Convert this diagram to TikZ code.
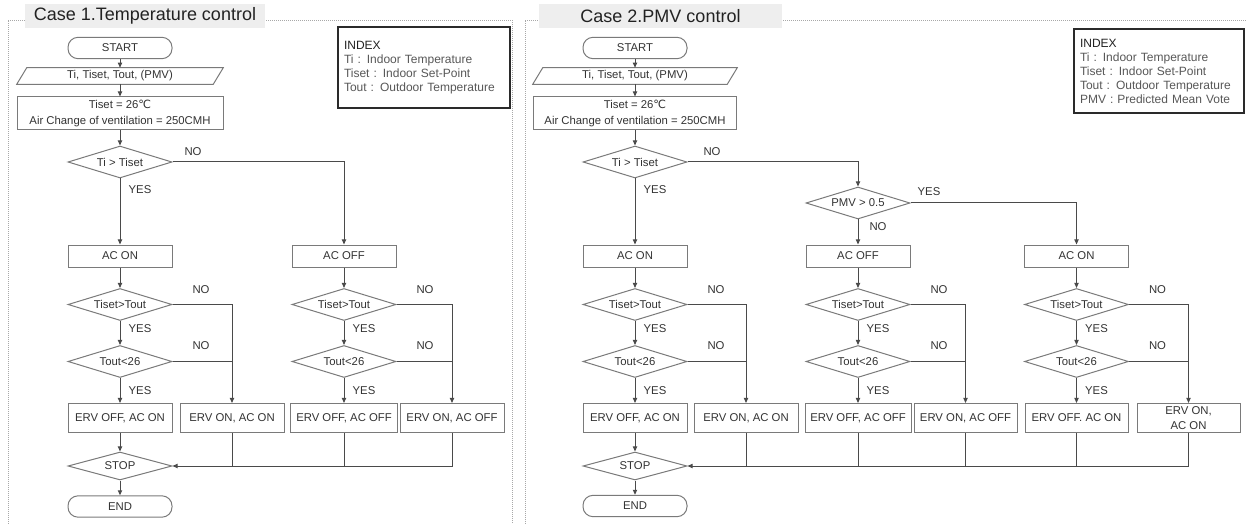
\documentclass[tikz,border=0pt]{standalone}
\usepackage{fontspec}
\setmainfont{Liberation Sans}
\newfontfamily\djv{DejaVu Sans}
\usetikzlibrary{shapes.geometric,arrows.meta}
\definecolor{txt}{HTML}{333333}
\definecolor{bord}{HTML}{7A7A7A}
\definecolor{lin}{HTML}{4A4A4A}
\definecolor{frm}{HTML}{A8A8A8}
\definecolor{ttlbg}{HTML}{EEEEEE}
\definecolor{idxb}{HTML}{2A2A2A}
\definecolor{idxt}{HTML}{585858}
\definecolor{idxh}{HTML}{222222}
\newcommand\mybranch[7]{%
  \node[dec] (#1d2) at (#2,304.5) {Tiset>Tout};
  \node[dec] (#1d3) at (#2,361.5) {Tout<26};
  \node[ervbox, minimum width=#4] (#1eL) at (#2,418) {#3};
  \node[ervbox, minimum width=#7] (#1eR) at (#5,418) {#6};
  \node[lab] (#1no2) at (#2+81,289.5) {NO};
  \node[lab] (#1yes2) at (#2+20,329) {YES};
  \node[lab] (#1no3) at (#2+81,345.5) {NO};
  \node[lab] (#1yes3) at (#2+20,391) {YES};
  \draw[arr] (#1ac) -- (#1d2);
  \draw[arr] (#1d2) -- (#1d3);
  \draw[arr] (#1d3) -- (#1eL);
  \draw[arr] (#1d2.east) -| (#1eR.north);
  \draw[conn] (#1d3.east) -- (#1d3.east -| #1eR.north);
}
\begin{document}
\begin{tikzpicture}[x=0.75pt,y=-0.75pt,
  every node/.style={text=txt, font=\fontsize{8.5}{11}\selectfont},
  box/.style={draw=bord, line width=0.75pt, minimum width=78pt, minimum height=16.5pt, inner xsep=2pt, inner ysep=1pt, align=center},
  ervbox/.style={box, minimum height=21.75pt},
  term/.style={box, rounded corners=7.5pt, minimum height=16pt},
  dec/.style={draw=bord, line width=0.75pt, diamond, aspect=3.25, minimum width=78pt, minimum height=24pt, inner sep=0pt},
  stopdec/.style={dec, minimum height=21pt},
  conn/.style={draw=lin, line width=0.75pt},
  arr/.style={conn, -{Triangle[length=3.8pt,width=3.2pt]}},
  lab/.style={inner sep=0pt},
  inbox/.style={inner sep=0pt, minimum width=147pt, minimum height=12pt},
  para/.style={draw=bord, line width=0.75pt},
  initbox/.style={box, minimum height=24.75pt, font=\fontsize{8.5}{12.5}\selectfont},
  frame/.style={draw=frm, densely dotted, line width=0.5pt},
  ttl/.style={fill=ttlbg, font=\fontsize{13.5}{15}\selectfont, text=idxh, inner sep=0pt, minimum height=18pt},
  idx/.style={draw=idxb, line width=1.5pt, align=left, inner xsep=4.5pt, inner ysep=0pt, font=\fontsize{9}{10.5}\selectfont, text=idxt},
]
\useasboundingbox (0,0) rectangle (1246,524);
\fill[white] (0,0) rectangle (1246,524);
% frames and titles
\draw[frame] (8,524) -- (8,20) -- (512,20) -- (512,524);
\draw[frame] (525,524) -- (525,20) -- (1246,20);
\node[ttl, minimum width=180pt] (t1) at (145,16) {Case 1.Temperature control};
\node[ttl, minimum width=182.25pt] (t2) at (660.5,16.5) {Case 2.PMV control};
% index boxes
\node[idx, text width=120pt, minimum height=60.75pt] (idx1) at (424,67.5)
  {\textcolor{idxh}{INDEX}\\Ti : Indoor Temperature\\Tiset : Indoor Set-Point\\Tout : Outdoor Temperature};
\node[idx, text width=118.5pt, minimum height=63pt] (idx2) at (1159,71)
  {\textcolor{idxh}{INDEX}\\Ti : Indoor Temperature\\Tiset : Indoor Set-Point\\Tout : Outdoor Temperature\\PMV : Predicted Mean Vote};

% ===== Case 1 =====
\node[term] (Lstart) at (120,48) {START};
\node[inbox] (Lin) at (120,76) {Ti, Tiset, Tout, (PMV)};
\draw[para] ([xshift=-3.75pt]Lin.south west) -- ([xshift=3.75pt]Lin.north west) -- ([xshift=3.75pt]Lin.north east) -- ([xshift=-3.75pt]Lin.south east) -- cycle;
\node[initbox, minimum width=154.5pt] (Linit) at (120,113.5) {Tiset = 26{\djv ℃}\\Air Change of ventilation = 250CMH};
\node[dec] (Ld1) at (120,162) {Ti > Tiset};
\node[lab] (Lno1) at (193,152) {NO};
\node[lab] (Lyes1) at (140,190) {YES};
\node[box] (Aac) at (120,256) {AC ON};
\node[box] (Bac) at (344,256) {AC OFF};
\draw[arr] (Lstart) -- (Lin);
\draw[arr] (Lin) -- (Linit);
\draw[arr] (Linit) -- (Ld1);
\draw[arr] (Ld1) -- (Aac);
\draw[arr] (Ld1.east) -| (Bac.north);
\mybranch{A}{120}{ERV OFF, AC ON}{78pt}{232}{ERV ON, AC ON}{78pt}
\mybranch{B}{344}{ERV OFF, AC OFF}{80.25pt}{452}{ERV ON, AC OFF}{78pt}
\node[stopdec] (Lstop) at (120,466) {STOP};
\node[term] (Lend) at (120,506.5) {END};
\draw[arr] (AeL) -- (Lstop);
\draw[arr] (BeR.south) |- (Lstop.east);
\draw[conn] (AeR.south) -- (AeR.south |- Lstop.east);
\draw[conn] (BeL.south) -- (BeL.south |- Lstop.east);
\draw[arr] (Lstop) -- (Lend);

% ===== Case 2 =====
\node[term] (Rstart) at (635,48) {START};
\node[inbox, minimum width=145.5pt] (Rin) at (635,76) {Ti, Tiset, Tout, (PMV)};
\draw[para] ([xshift=-3.75pt]Rin.south west) -- ([xshift=3.75pt]Rin.north west) -- ([xshift=3.75pt]Rin.north east) -- ([xshift=-3.75pt]Rin.south east) -- cycle;
\node[initbox, minimum width=152.25pt] (Rinit) at (635,113.5) {Tiset = 26{\djv ℃}\\Air Change of ventilation = 250CMH};
\node[dec] (Rd1) at (635,162) {Ti > Tiset};
\node[lab] (Rno1) at (712,152) {NO};
\node[lab] (Ryes1) at (655,190) {YES};
\node[dec] (Rpmv) at (858,203) {PMV > 0.5};
\node[lab] (Ryes0) at (929,192) {YES};
\node[lab] (Rno0) at (878,227) {NO};
\node[box] (Cac) at (635,256) {AC ON};
\node[box] (Dac) at (858,256) {AC OFF};
\node[box] (Eac) at (1076.5,256) {AC ON};
\draw[arr] (Rstart) -- (Rin);
\draw[arr] (Rin) -- (Rinit);
\draw[arr] (Rinit) -- (Rd1);
\draw[arr] (Rd1) -- (Cac);
\draw[arr] (Rd1.east) -| (Rpmv.north);
\draw[arr] (Rpmv) -- (Dac);
\draw[arr] (Rpmv.east) -| (Eac.north);
\mybranch{C}{635}{ERV OFF, AC ON}{78pt}{746}{ERV ON, AC ON}{78pt}
\mybranch{D}{858}{ERV OFF, AC OFF}{79.5pt}{965.5}{ERV ON, AC OFF}{77.25pt}
\mybranch{E}{1076.5}{ERV OFF. AC ON}{77.25pt}{1188.5}{ERV ON,\\AC ON}{77.25pt}
\node[stopdec] (Rstop) at (635,466) {STOP};
\node[term] (Rend) at (635,506) {END};
\draw[arr] (CeL) -- (Rstop);
\draw[arr] (EeR.south) |- (Rstop.east);
\draw[conn] (CeR.south) -- (CeR.south |- Rstop.east);
\draw[conn] (DeL.south) -- (DeL.south |- Rstop.east);
\draw[conn] (DeR.south) -- (DeR.south |- Rstop.east);
\draw[conn] (EeL.south) -- (EeL.south |- Rstop.east);
\draw[arr] (Rstop) -- (Rend);
\end{tikzpicture}
\end{document}
